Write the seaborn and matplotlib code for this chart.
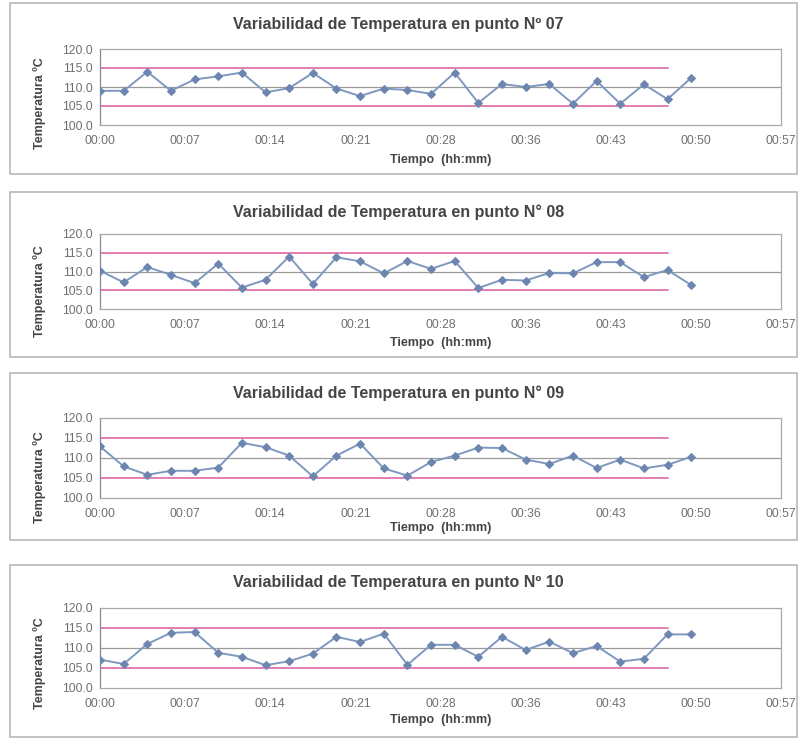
import numpy as np
import pandas as pd
import seaborn as sns
import matplotlib.pyplot as plt
from matplotlib.patches import Rectangle

# --- data (minutes from start, temperature in C) ---
minutes = [0, 2, 4, 6, 8, 10, 12, 14, 16, 18, 20, 22, 24,
           26, 28, 30, 32, 34, 36, 38, 40, 42, 44, 46, 48, 50]

temp_p07 = [109.0, 109.0, 114.0, 109.0, 112.0, 112.8, 113.8, 108.6, 109.7, 113.7, 109.6, 107.6, 109.6,
            109.2, 108.2, 113.8, 105.8, 110.8, 110.0, 110.8, 105.6, 111.6, 105.6, 110.7, 106.8, 112.4]
temp_p08 = [110.2, 107.1, 111.2, 109.1, 106.9, 112.1, 105.7, 107.8, 114.0, 106.7, 113.8, 112.7, 109.5,
            112.8, 110.7, 112.8, 105.6, 107.8, 107.6, 109.6, 109.5, 112.5, 112.5, 108.5, 110.4, 106.4]
temp_p09 = [112.9, 107.9, 105.8, 106.8, 106.8, 107.6, 113.8, 112.7, 110.6, 105.4, 110.6, 113.6, 107.4,
            105.6, 109.0, 110.6, 112.6, 112.5, 109.6, 108.5, 110.6, 107.5, 109.6, 107.4, 108.3, 110.3]
temp_p10 = [107.1, 106.0, 111.0, 113.8, 114.0, 108.8, 107.8, 105.7, 106.7, 108.6, 112.8, 111.5, 113.6,
            105.8, 110.8, 110.8, 107.8, 112.8, 109.5, 111.6, 108.7, 110.5, 106.6, 107.3, 113.4, 113.4]

titles = ["Variabilidad de Temperatura en punto Nº 07",
          "Variabilidad de Temperatura en punto N° 08",
          "Variabilidad de Temperatura en punto N° 09",
          "Variabilidad de Temperatura en punto Nº 10"]
series = [temp_p07, temp_p08, temp_p09, temp_p10]

lsl, usl = 105.0, 115.0          # pink limit lines
center = 110.0                   # grey centre line
limit_minutes = [0, 48]          # the limit series stop at 00:48

tick_labels = ["00:00", "00:07", "00:14", "00:21", "00:28", "00:36", "00:43", "00:50", "00:57"]
y_ticks = [100, 105, 110, 115, 120]

# --- layout (pixels of the 801x739 original) ---
W, H = 801, 739
boxes = [(3, 174), (192, 357), (373, 540), (565, 737)]      # chart-area frames (top, bottom)
axes_y = [(49, 125), (234, 309), (418, 498), (608, 688)]    # plot areas (top, bottom)
title_y = [25, 212, 393, 583]
ylab_y = [103, 291, 477, 663]
xlab_y = [160, 343, 528, 720]
ax_left, ax_right = 100, 781

sns.set_style("white")
plt.rcParams['font.family'] = ['Liberation Sans', 'DejaVu Sans']

line_col = "#7f98c0"
mark_col = "#6c86b0"
pink = "#e274ad"
text_col = "#454545"
tick_col = "#707070"

fig = plt.figure(figsize=(W / 100, H / 100), dpi=100)

for i, (title, temps) in enumerate(zip(titles, series)):
    bt, bb = boxes[i]
    fig.patches.append(Rectangle((10 / W, 1 - bb / H), 787 / W, (bb - bt) / H,
                                 transform=fig.transFigure, fill=False,
                                 edgecolor="#b8b8b8", linewidth=1.2))

    top, bot = axes_y[i]
    ax = fig.add_axes([ax_left / W, 1 - bot / H, (ax_right - ax_left) / W, (bot - top) / H])

    df = pd.DataFrame({"Tiempo": minutes, "Temperatura": temps})

    ax.axhline(center, color="#9a9a9a", linewidth=0.9, zorder=1)
    ax.plot(limit_minutes, [usl, usl], color=pink, linewidth=1.3, zorder=2)
    ax.plot(limit_minutes, [lsl, lsl], color=pink, linewidth=1.3, zorder=2)

    sns.lineplot(data=df, x="Tiempo", y="Temperatura", ax=ax, color=line_col,
                 marker="D", markersize=4.2, markeredgecolor=mark_col,
                 markerfacecolor=mark_col, linewidth=1.4, zorder=3)

    ax.set_xlim(0, 57.6)
    ax.set_ylim(100, 120)
    ax.set_xticks([k * 7.2 for k in range(len(tick_labels))])
    ax.set_xticklabels(tick_labels)
    ax.set_yticks(y_ticks)
    ax.set_yticklabels([f"{v:.1f}" for v in y_ticks])
    ax.tick_params(axis="both", labelsize=8.8, colors=tick_col, length=3, width=0.8)
    ax.tick_params(axis="x", length=0, pad=7)
    ax.tick_params(axis="y", pad=2)
    ax.set_xlabel("")
    ax.set_ylabel("")
    for s in ax.spines.values():
        s.set_color("#a8a8a8")
        s.set_linewidth(0.9)
    ax.spines["left"].set_color("#888888")

    fig.text(0.497, 1 - title_y[i] / H, title,
             ha="center", va="center", fontsize=11.5, fontweight="bold", color=text_col)
    fig.text(40 / W, 1 - ylab_y[i] / H, "Temperatura ºC", rotation=90,
             ha="center", va="center", fontsize=9, fontweight="bold", color=text_col)
    fig.text((ax_left + ax_right) / 2 / W, 1 - xlab_y[i] / H, "Tiempo  (hh:mm)",
             ha="center", va="center", fontsize=9, fontweight="bold", color=text_col)

fig.savefig("out.png", dpi=100, facecolor="white")
